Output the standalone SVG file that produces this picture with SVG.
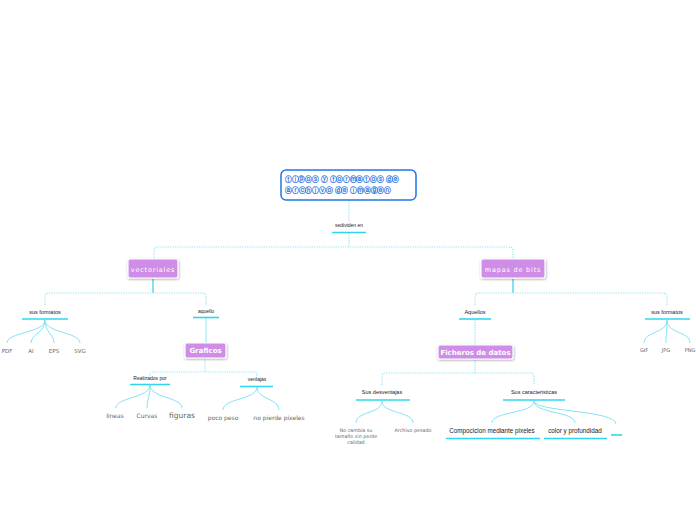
<svg xmlns="http://www.w3.org/2000/svg" width="696" height="520" viewBox="0 0 696 520">
<defs>
<style>
.dot{fill:none;stroke:#8fe5f5;stroke-width:1.2;stroke-dasharray:1.2 1.2}
.sol{fill:none;stroke:#5fdcf2;stroke-width:1.6}
.cur{fill:none;stroke:#86e3f5;stroke-width:1}
.ul{stroke:#2fd6ef;stroke-width:1.6}
.pn{fill:#cf8de8;stroke:#ffffff;stroke-width:1.2;filter:url(#sh)}
.pt{fill:#ffffff;font-family:"DejaVu Sans",sans-serif;font-weight:bold;text-anchor:middle}
.lb{fill:#222222;font-family:"Liberation Sans",sans-serif;text-anchor:middle}
.lf{fill:#666666;font-family:"DejaVu Sans",sans-serif;text-anchor:middle}
.tt{font-family:"DejaVu Sans",sans-serif;font-size:7.6px;fill:#1f6fe0;stroke:#1f6fe0;stroke-width:0.25px}
</style>
<filter id="sh" x="-20%" y="-30%" width="140%" height="170%">
<feDropShadow dx="0.5" dy="1" stdDeviation="0.8" flood-color="#000" flood-opacity="0.35"/>
</filter>
</defs>
<rect width="696" height="520" fill="#ffffff"/>
<g id="connectors">
<path class="dot" d="M349 200 V222"/>
<path class="dot" d="M349 233 V247"/>
<path class="dot" d="M154 259 V251 Q154 247 158 247 H509 Q513 247 513 251 V259"/>
<path class="sol" d="M153 279 V293"/>
<path class="dot" d="M45 305 V297 Q45 293 49 293 H202 Q206 293 206 297 V305"/>
<path class="cur" d="M45 320 C45 333 7 332 7 343"/>
<path class="cur" d="M45 320 C45 333 31 334 31 343"/>
<path class="cur" d="M45 320 C45 333 54 334 54 343"/>
<path class="cur" d="M45 320 C45 333 80 332 80 343"/>
<path class="sol" style="stroke:#9fe9f6;stroke-width:1.2" d="M206 318 V343"/>
<path class="dot" d="M205 358 V372"/>
<path class="dot" d="M150 378 V375 Q150 372 153 372 H254 Q257 372 257 375 V378"/>
<path class="cur" d="M150 385 C150 398 116 397 116 408"/>
<path class="cur" d="M150 385 C150 398 147 399 147 408"/>
<path class="cur" d="M150 385 C150 398 182 397 182 408"/>
<path class="cur" d="M257 387 C257 400 223 398 223 410"/>
<path class="cur" d="M257 387 C257 400 279 398 279 410"/>
<path class="sol" d="M513 279 V293"/>
<path class="dot" d="M475 305 V297 Q475 293 479 293 H663 Q667 293 667 297 V305"/>
<path class="dot" d="M475 320 V345"/>
<path class="cur" d="M667 320 C667 334 644 331 644 343"/>
<path class="cur" d="M667 320 C667 334 666 334 666 343"/>
<path class="cur" d="M667 320 C667 334 690 331 690 343"/>
<path class="dot" d="M475 360 V373"/>
<path class="dot" d="M382 385 V377 Q382 373 386 373 H530 Q534 373 534 377 V385"/>
<path class="cur" d="M382 401 C382 414 356 411 356 423"/>
<path class="cur" d="M382 401 C382 414 413 411 413 423"/>
<path class="cur" d="M534 401 C534 414 492 411 492 423"/>
<path class="cur" d="M534 401 C534 414 575 411 575 423"/>
<path class="cur" d="M534 401 C534 412 616 410 616 424"/>
</g>
<g id="n-title">
<rect x="281" y="170" width="135" height="30" rx="5" fill="#ffffff" stroke="#1f78e6" stroke-width="1.5"/>
<text class="tt" x="285" y="182" textLength="114" lengthAdjust="spacingAndGlyphs">ⓣⓘⓟⓞⓢ ⓨ ⓕⓞⓡⓜⓐⓣⓞⓢ ⓓⓔ</text>
<text class="tt" x="285" y="193" textLength="106" lengthAdjust="spacingAndGlyphs">ⓐⓡⓒⓗⓘⓥⓞ ⓓⓔ ⓘⓜⓐⓖⓔⓝ</text>
</g>
<g id="n-sedividen">
<text class="lb" x="349" y="227" font-size="5">sedividen en</text>
<line class="ul" x1="332" y1="232.5" x2="366" y2="232.5"/>
</g>
<g id="n-vectoriales">
<rect class="pn" x="128" y="259" width="50" height="19" rx="2"/>
<text class="pt" x="153" y="271.5" font-size="6.5" letter-spacing="0.8" style="font-weight:normal">vectoriales</text>
</g>
<g id="n-susformatos1">
<text class="lb" x="45" y="314" font-size="5.5">sus formatos</text>
<line class="ul" x1="22" y1="319" x2="68" y2="319"/>
</g>
<g id="n-pdf"><text class="lf" x="7" y="353" font-size="5.5">PDF</text></g>
<g id="n-ai"><text class="lf" x="31" y="353" font-size="5.5">AI</text></g>
<g id="n-eps"><text class="lf" x="54" y="353" font-size="5.5">EPS</text></g>
<g id="n-svg"><text class="lf" x="80" y="353" font-size="5.5">SVG</text></g>
<g id="n-aquello">
<text class="lb" x="206" y="313" font-size="5">aquello</text>
<line class="ul" x1="193" y1="317.5" x2="219" y2="317.5"/>
</g>
<g id="n-graficos">
<rect class="pn" x="185" y="343" width="41" height="15" rx="2"/>
<text class="pt" x="205.5" y="353" font-size="7">Graficos</text>
</g>
<g id="n-realizados">
<text class="lb" x="150" y="380" font-size="5">Realizados por</text>
<line class="ul" x1="130" y1="384.5" x2="170" y2="384.5"/>
</g>
<g id="n-lineas"><text class="lf" x="115" y="418" font-size="6">lineas</text></g>
<g id="n-curvas"><text class="lf" x="147" y="418" font-size="6">Curvas</text></g>
<g id="n-figuras"><text class="lf" x="182" y="418" font-size="7.5">figuras</text></g>
<g id="n-ventajas">
<text class="lb" x="257" y="381" font-size="5">ventajas</text>
<line class="ul" x1="240" y1="386.5" x2="273" y2="386.5"/>
</g>
<g id="n-poco"><text class="lf" x="223" y="420" font-size="6">poco peso</text></g>
<g id="n-nopierde"><text class="lf" x="279" y="420" font-size="6">no pierde pixeles</text></g>
<g id="n-mapas">
<rect class="pn" x="481" y="259" width="64" height="19" rx="2"/>
<text class="pt" x="513" y="271.5" font-size="6.5" letter-spacing="0.8" style="font-weight:normal">mapas de bits</text>
</g>
<g id="n-aquellos">
<text class="lb" x="475" y="314" font-size="5.5">Aquellos</text>
<line class="ul" x1="459" y1="319" x2="491" y2="319"/>
</g>
<g id="n-susformatos2">
<text class="lb" x="667" y="314" font-size="5.5">sus formatos</text>
<line class="ul" x1="645" y1="319" x2="690" y2="319"/>
</g>
<g id="n-gif"><text class="lf" x="644" y="352" font-size="5">GIF</text></g>
<g id="n-jpg"><text class="lf" x="666" y="352" font-size="5">JPG</text></g>
<g id="n-png"><text class="lf" x="690" y="352" font-size="5">PNG</text></g>
<g id="n-ficheros">
<rect class="pn" x="438" y="345" width="75" height="14" rx="2"/>
<text class="pt" x="475.5" y="354.5" font-size="7">Ficheros de datos</text>
</g>
<g id="n-desventajas">
<text class="lb" x="382" y="394" font-size="5.5">Sus desventajas</text>
<line class="ul" x1="356" y1="400" x2="410" y2="400"/>
</g>
<g id="n-nocambia">
<text class="lf" x="356" y="432" font-size="4.8">No cambia su</text>
<text class="lf" x="356" y="438" font-size="4.8">tamaño sin perde</text>
<text class="lf" x="356" y="444" font-size="4.8">calidad</text>
</g>
<g id="n-archivo"><text class="lf" x="413" y="432" font-size="4.8">Archivo pesado</text></g>
<g id="n-caracteristicas">
<text class="lb" x="534" y="394" font-size="5.5">Sus caracteristicas</text>
<line class="ul" x1="503" y1="400" x2="565" y2="400"/>
</g>
<g id="n-compocicion">
<text class="lb" x="492" y="433" font-size="6.3">Compocicion mediante pixeles</text>
<line class="ul" x1="446" y1="438.5" x2="540" y2="438.5"/>
</g>
<g id="n-color">
<text class="lb" x="575" y="433" font-size="6.3">color y profundidad</text>
<line class="ul" x1="544" y1="438.5" x2="607" y2="438.5"/>
</g>
<g id="n-empty">
<line class="ul" x1="611" y1="435" x2="622" y2="435"/>
</g>
</svg>
